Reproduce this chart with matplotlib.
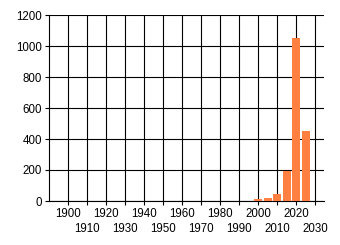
import matplotlib
matplotlib.use("Agg")
import matplotlib.pyplot as plt
import numpy as np

# bar data
years = [2000, 2005, 2010, 2015, 2020, 2025]
counts = [13, 21, 47, 196, 1052, 452]

upper_ticks = [1900, 1920, 1940, 1960, 1980, 2000, 2020]
lower_ticks = [1910, 1930, 1950, 1970, 1990, 2010, 2030]
y_ticks = [0, 200, 400, 600, 800, 1000, 1200]

plt.rcParams['font.family'] = ['Liberation Sans', 'DejaVu Sans']

fig = plt.figure(figsize=(3.4, 2.45), dpi=100)
ax = fig.add_axes([49 / 340, 1 - 201 / 245, 275 / 340, 186 / 245])

ax.bar(years, counts, width=4.2, color='#FF8040', zorder=3)

ax.set_xlim(1890, 2034.7)
ax.set_ylim(0, 1200)

ax.set_xticks(upper_ticks)
ax.set_xticklabels([str(t) for t in upper_ticks])
ax.set_xticks(lower_ticks, minor=True)
ax.set_xticklabels([str(t) for t in lower_ticks], minor=True)
ax.set_yticks(y_ticks)

ax.tick_params(axis='x', which='major', length=3, width=0.8, pad=2, labelsize=8.3)
ax.tick_params(axis='x', which='minor', length=3, width=0.8, pad=13, labelsize=8.3)
ax.tick_params(axis='y', length=3, width=0.8, pad=2, labelsize=8.3)

ax.grid(True, which='both', color='black', linewidth=0.8, zorder=0)
ax.set_axisbelow(True)

for side in ['top', 'right']:
    ax.spines[side].set_visible(False)
for side in ['left', 'bottom']:
    ax.spines[side].set_linewidth(0.8)

fig.savefig("out.png", dpi=100)
